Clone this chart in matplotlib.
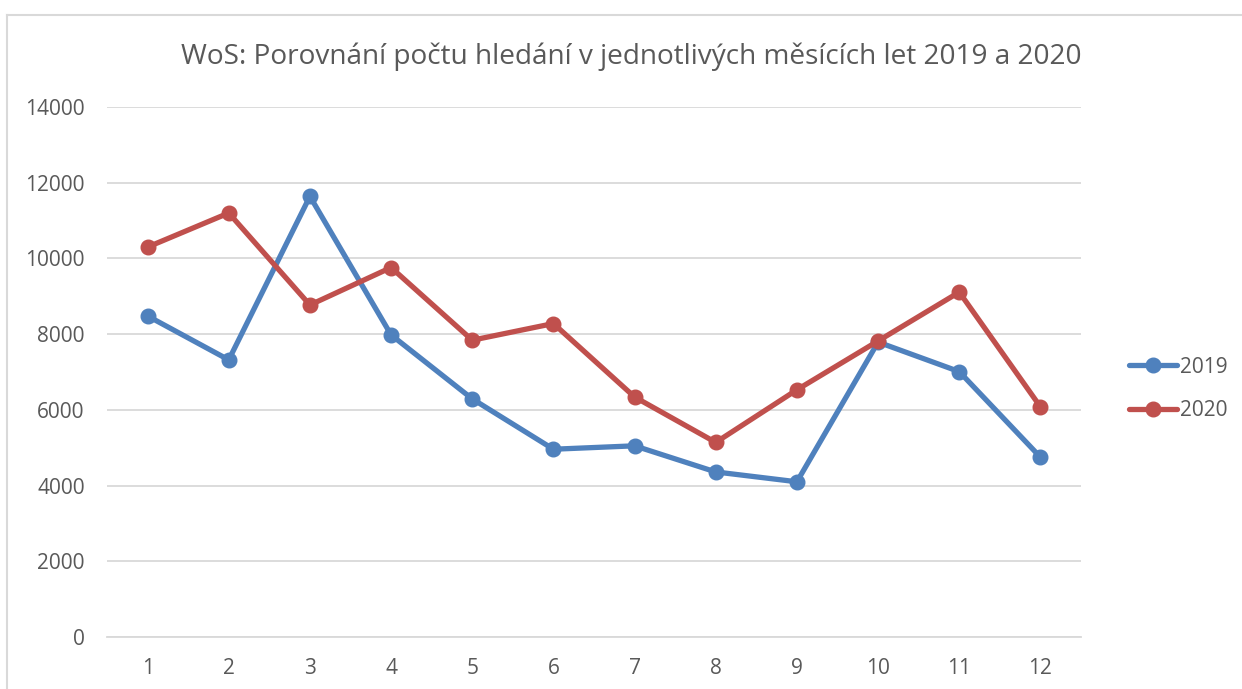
import matplotlib
matplotlib.use("Agg")
import matplotlib.pyplot as plt
from matplotlib.lines import Line2D

months = [1, 2, 3, 4, 5, 6, 7, 8, 9, 10, 11, 12]
values_2019 = [8480, 7320, 11640, 7980, 6290, 4960, 5050, 4360, 4100, 7790, 7010, 4750]
values_2020 = [10300, 11200, 8770, 9760, 7840, 8280, 6340, 5140, 6530, 7820, 9110, 6080]
yticks = [0, 2000, 4000, 6000, 8000, 10000, 12000, 14000]
title = "WoS: Porovnání počtu hledání v jednotlivých měsících let 2019 a 2020"

plt.rcParams['font.family'] = ['Open Sans', 'DejaVu Sans']
W, H = 1242, 689
fig = plt.figure(figsize=(W / 100, H / 100), dpi=100)
ax = fig.add_axes([107 / W, 1 - 637 / H, (1081 - 107) / W, (637 - 107) / H])

blue = '#4F81BD'
red = '#C0504D'
txt = '#595959'

ax.plot(months, values_2019, color=blue, lw=3.8, marker='o', ms=10.5, label='2019', solid_capstyle='round')
ax.plot(months, values_2020, color=red, lw=3.8, marker='o', ms=10.5, label='2020', solid_capstyle='round')

ax.set_xlim(0.5, 12.5)
ax.set_ylim(0, 14000)
ax.set_yticks(yticks)
ax.set_yticklabels([str(v) for v in yticks])
ax.set_xticks(months)
ax.set_xticklabels([str(m) for m in months])
ax.grid(axis='y', color='#D9D9D9', lw=1.3)
ax.set_axisbelow(True)
for s in ['top', 'right', 'left']:
    ax.spines[s].set_visible(False)
ax.spines['bottom'].set_color('#D9D9D9')
ax.spines['bottom'].set_linewidth(1.3)
ax.tick_params(axis='both', length=0, labelsize=15, labelcolor=txt)
ax.tick_params(axis='y', pad=16)
ax.tick_params(axis='x', pad=15)

fig.text(631 / W, 1 - 57 / H, title, ha='center', va='center', fontsize=20.2, color=txt)

leg = ax.legend(loc='center left', bbox_to_anchor=(1110 / W, 1 - 389 / H), bbox_transform=fig.transFigure,
                frameon=False, fontsize=15, labelcolor=txt, handlelength=2.3, handletextpad=0.15,
                labelspacing=1.1)

# chart border (cropped at right and bottom)
fig.add_artist(Line2D([7 / W, 7 / W], [0, 1 - 15 / H], transform=fig.transFigure, color='#D9D9D9', lw=1.5))
fig.add_artist(Line2D([7 / W, 1], [1 - 15 / H, 1 - 15 / H], transform=fig.transFigure, color='#D9D9D9', lw=1.5))

fig.savefig('out.png', dpi=100)
